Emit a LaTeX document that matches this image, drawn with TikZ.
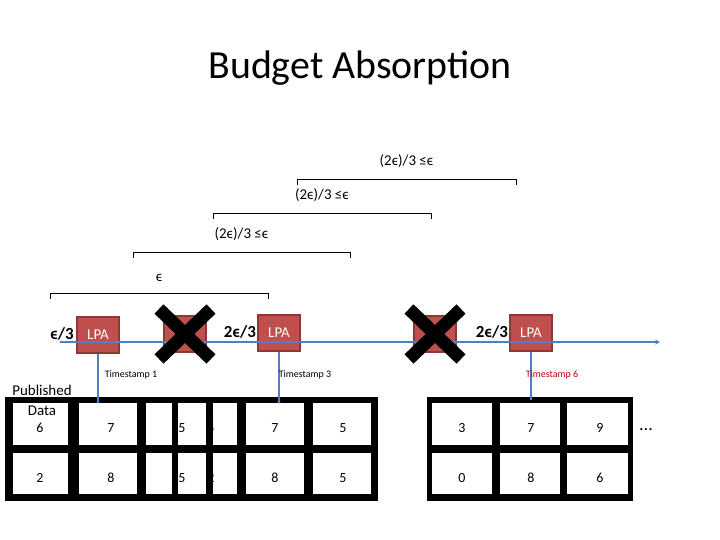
\documentclass[tikz,border=0pt]{standalone}
\usepackage{fontspec}
\setmainfont{Carlito}
\usetikzlibrary{positioning, arrows}

\definecolor{lpared}{RGB}{192,80,77}
\definecolor{lpaedge}{RGB}{140,56,53}
\definecolor{tline}{RGB}{79,129,189}
\definecolor{tsred}{RGB}{192,0,0}

\tikzset{
  lpa/.style={draw=lpaedge, line width=2pt, fill=lpared, minimum width=43, minimum height=36,
    text=white, font=\fontsize{15}{15}\selectfont, inner sep=0pt},
  brace/.style={draw, line width=0.6pt},
  blab/.style={font=\fontsize{15}{15}\selectfont},
  eps/.style={font=\bfseries\fontsize{17}{17}\selectfont},
  stamp/.style={font=\fontsize{10}{10}\selectfont},
  cell/.style={fill=white},
  num/.style={font=\fontsize{14}{14}\selectfont}
}

\begin{document}
\begin{tikzpicture}[x=1bp, y=-1bp]
   \useasboundingbox (0,0) rectangle (720,540);
   \node[font=\fontsize{40}{40}\selectfont] (title) at (360,68) {Budget Absorption};
   % brackets
   \foreach \xa/\xb/\yy/\lab in {297/516/179/{(2ϵ)/3 ≤ϵ}, 213/431/213/{(2ϵ)/3 ≤ϵ}, 133/350/252/{(2ϵ)/3 ≤ϵ}, 50/268/293/{ϵ}}{
     \draw[brace] (\xa,\yy+6) -- (\xa,\yy) -- (\xb,\yy) -- (\xb,\yy+6);
     \node[blab, anchor=south] at ({(\xa+\xb)/2},\yy-8) {\lab};
   }
   % LPA boxes
   \node[lpa] (lpa1) at (98,335) {LPA};
   \node[lpa] (lpa2) at (185,334) {};
   \node[lpa] (lpa3) at (279,333) {LPA};
   \node[lpa] (lpa4) at (435,334) {};
   \node[lpa] (lpa5) at (531,333) {LPA};
   % timeline
   \coordinate (tl0) at (60,342);
   \coordinate (tl1) at (660,342);
   \draw[tline, line width=1.2pt, -stealth] (tl0) -- (tl1);
   % crosses
   \foreach \c in {lpa2, lpa4}{
     \draw[line width=13pt] ([shift={(-26,-25)}]\c.center) -- ([shift={(26,25)}]\c.center);
     \draw[line width=13pt] ([shift={(-26,25)}]\c.center) -- ([shift={(26,-25)}]\c.center);
   }
   \node[eps] (e1) at (62,334) {ϵ/3};
   \node[eps] (e3) at (240,332) {2ϵ/3};
   \node[eps] (e5) at (492,332) {2ϵ/3};
   % tables
   \fill (5,397) rectangle (378,501);
   \fill (427,397) rectangle (633,501);
   \foreach \xa/\xb in {13/68, 79/137, 146/172, 178/206, 213/237, 246/304, 313/371, 432/492, 500/560, 567/628}{
     \fill[cell] (\xa,403) rectangle (\xb,445);
     \fill[cell] (\xa,453) rectangle (\xb,494);
   }
   \foreach \xx/\ta/\tb in {40/6/2, 111/7/8, 182/5/5, 211/5/2, 275/7/8, 343/5/5, 462/3/0, 531/7/8, 600/9/6}{
     \node[num] at (\xx,428) {\ta};
     \node[num] at (\xx,478) {\tb};
   }
   \fill (172,403) rectangle (178,494);
   \fill (206,403) rectangle (213,494);
   \node[font=\fontsize{15}{15}\selectfont] (pub) at (42,390) {Published};
   \node[font=\fontsize{15}{15}\selectfont] (dat) at (42,411) {Data};
   \node[font=\fontsize{18}{18}\selectfont] (dots) at (646,430) {...};
   % timestamps
   \coordinate (t1) at (98,402);
   \coordinate (t3) at (279,402);
   \coordinate (t6) at (531,400);
   \draw[tline, line width=1.2pt] (lpa1.south) -- (t1);
   \draw[tline, line width=1.2pt] (lpa3.south) -- (t3);
   \draw[tline, line width=1.2pt] (lpa5.south) -- (t6);
   \fill[tline] (t1) circle (1.6);
   \fill[tline] (t3) circle (1.6);
   \node[stamp] at (131,375) {Timestamp 1};
   \node[stamp] at (305,375) {Timestamp 3};
   \node[stamp, text=tsred] at (552,375) {Timestamp 6};
\end{tikzpicture}
\end{document}
